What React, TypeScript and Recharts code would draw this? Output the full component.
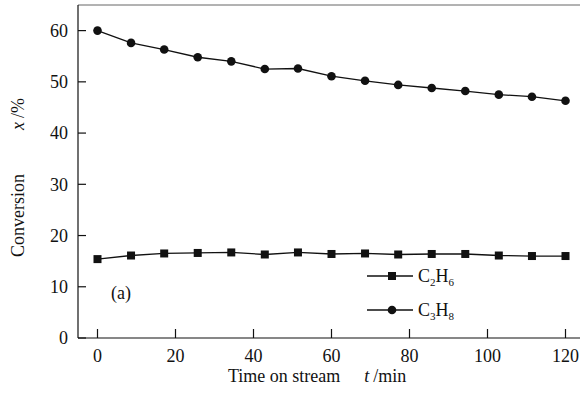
import * as React from "react";
import { LineChart, Line, XAxis, YAxis, ReferenceLine, Label } from "recharts";

const TIME = [0, 8.6, 17.1, 25.7, 34.3, 42.9, 51.4, 60, 68.6, 77.1, 85.7, 94.3, 102.9, 111.4, 120];
const C2H6 = [15.4, 16.1, 16.5, 16.6, 16.7, 16.3, 16.7, 16.4, 16.5, 16.3, 16.4, 16.4, 16.1, 16.0, 16.0];
const C3H8 = [60.0, 57.6, 56.3, 54.8, 54.0, 52.5, 52.6, 51.1, 50.2, 49.4, 48.8, 48.2, 47.5, 47.1, 46.3];
const X_TICKS = [0, 20, 40, 60, 80, 100, 120];
const Y_TICKS = [0, 10, 20, 30, 40, 50, 60];
const SERIES = [
  { key: "c2", a: "2", b: "6", square: true },
  { key: "c3", a: "3", b: "8", square: false },
];

const data = TIME.map((t, i) => ({ t, c2: C2H6[i], c3: C3H8[i] }));

const FONT = '"Liberation Serif", "Times New Roman", serif';
const INK = "#111";

function SquareDot(props: any) {
  const { cx, cy } = props;
  if (cx == null || cy == null) return null;
  return <rect x={cx - 4} y={cy - 4} width={8} height={8} fill={INK} />;
}

function RoundDot(props: any) {
  const { cx, cy } = props;
  if (cx == null || cy == null) return null;
  return <circle cx={cx} cy={cy} r={4.3} fill={INK} />;
}

function XTick(props: any) {
  const { x, y, payload } = props;
  return (
    <text x={x} y={y} dy="0.71em" textAnchor="middle" fontFamily={FONT} fontSize={18} fill={INK}>
      {payload.value}
    </text>
  );
}

function YTick(props: any) {
  const { x, y, payload } = props;
  return (
    <text x={x} y={y} dy="0.355em" textAnchor="end" fontFamily={FONT} fontSize={18} fill={INK}>
      {payload.value}
    </text>
  );
}

function YTitle() {
  return (
    <text x={24} y={257} transform="rotate(-90 24 257)" fontFamily={FONT} fontSize={18} fill={INK}>
      Conversion
      <tspan dx={44} fontStyle="italic">x</tspan>
      <tspan dx={4}>/%</tspan>
    </text>
  );
}

function XTitle() {
  return (
    <text x={228} y={382} fontFamily={FONT} fontSize={18} fill={INK}>
      Time on stream
      <tspan dx={24} fontStyle="italic">t</tspan>
      <tspan dx={4}>/min</tspan>
    </text>
  );
}

// legend drawn straight into the svg so it takes no room from the plot
function LegendMarks() {
  return (
    <g fontFamily={FONT} fontSize={18} fill={INK}>
      {SERIES.map((s, i) => {
        const y = 276 + i * 34;
        return (
          <g key={s.key}>
            <line x1={367} y1={y} x2={413} y2={y} stroke={INK} strokeWidth={1.3} />
            {s.square ? (
              <rect x={388} y={y - 4} width={8} height={8} fill={INK} />
            ) : (
              <circle cx={392} cy={y} r={4.3} fill={INK} />
            )}
            <text x={418} y={y + 6}>
              C<tspan fontSize={11} dy={4}>{s.a}</tspan>
              <tspan dy={-4}>H</tspan>
              <tspan fontSize={11} dy={4}>{s.b}</tspan>
            </text>
          </g>
        );
      })}
    </g>
  );
}

export default function App() {
  return (
    <div style={{ position: "absolute", left: 0, top: 0, width: 580, height: 401, overflow: "hidden", background: "#fff", fontFamily: FONT }}>
      <LineChart width={592} height={401} data={data} margin={{ top: 5, right: 7, left: 0, bottom: 0 }}>
        <XAxis
          dataKey="t"
          type="number"
          domain={[-5, 125]}
          ticks={X_TICKS}
          height={63}
          tickSize={-9}
          tickMargin={20}
          axisLine={{ stroke: INK, strokeWidth: 1.2 }}
          tickLine={{ stroke: INK, strokeWidth: 1.2 }}
          tick={<XTick />}
        >
          <Label content={<XTitle />} />
        </XAxis>
        <YAxis
          type="number"
          domain={[0, 65]}
          ticks={Y_TICKS}
          width={78}
          tickSize={-8}
          tickMargin={18}
          axisLine={{ stroke: INK, strokeWidth: 1.2 }}
          tickLine={{ stroke: INK, strokeWidth: 1.2 }}
          tick={<YTick />}
        >
          <Label content={<YTitle />} />
        </YAxis>
        <ReferenceLine y={65} stroke="#666" strokeWidth={1} />
        <Line dataKey="c2" stroke={INK} strokeWidth={1.3} dot={<SquareDot />} isAnimationActive={false} />
        <Line dataKey="c3" stroke={INK} strokeWidth={1.3} dot={<RoundDot />} isAnimationActive={false} />
        <LegendMarks />
        <text x={111} y={299} fontFamily={FONT} fontSize={18} fill={INK}>(a)</text>
      </LineChart>
    </div>
  );
}
